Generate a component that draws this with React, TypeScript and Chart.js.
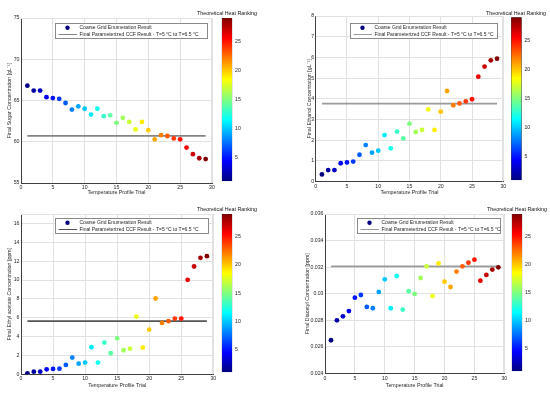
import React, { useEffect, useRef } from 'react';
import { Chart, registerables } from 'chart.js';

Chart.register(...registerables);

// ---------------- data ----------------
const trials = [1, 2, 3, 4, 5, 6, 7, 8, 9, 10, 11, 12, 13, 14, 15, 16, 17, 18, 19, 20, 21, 22, 23, 24, 25, 26, 27, 28, 29];
const heatRanking = [1, 2, 3, 4, 5, 6, 7, 8, 9, 10, 11, 12, 13, 14, 15, 16, 17, 18, 19, 20, 21, 22, 23, 24, 25, 26, 27, 28, 29];

const sugar = [66.8, 66.2, 66.2, 65.4, 65.3, 65.2, 64.7, 63.9, 64.3, 64.0, 63.3, 64.0, 63.1, 63.2, 62.3, 62.9, 62.4, 61.5, 62.4, 61.4, 60.3, 60.8, 60.7, 60.4, 60.3, 59.3, 58.5, 58.0, 57.9];
const ethanol = [0.35, 0.56, 0.56, 0.89, 0.93, 0.97, 1.3, 1.77, 1.4, 1.5, 2.25, 1.61, 2.42, 2.09, 2.8, 2.4, 2.5, 3.49, 2.5, 3.38, 4.38, 3.69, 3.78, 3.88, 3.98, 5.07, 5.56, 5.86, 5.94];
const ethylAcetate = [0.1, 0.28, 0.28, 0.53, 0.57, 0.6, 0.99, 1.77, 1.13, 1.24, 2.87, 1.24, 3.36, 2.23, 3.82, 2.55, 2.73, 6.12, 2.83, 4.74, 8.04, 5.45, 5.63, 5.91, 5.91, 10.02, 11.43, 12.35, 12.53];
const diacetyl = [0.02649, 0.02799, 0.02829, 0.02869, 0.0297, 0.0299, 0.029, 0.0289, 0.03013, 0.03108, 0.0289, 0.03133, 0.0288, 0.03018, 0.02998, 0.03118, 0.03206, 0.02982, 0.03228, 0.0309, 0.0305, 0.03166, 0.03206, 0.03233, 0.03256, 0.03098, 0.03141, 0.03181, 0.03198];

const sugarCCF = 60.72;
const ethanolCCF = 3.77;
const ethylAcetateCCF = 5.63;
const diacetylCCF = 0.03205;
const ccfFrom = 1;
const ccfTo = 29;

const xTicks = [0, 5, 10, 15, 20, 25, 30];
const sugarTicks = [55, 60, 65, 70, 75];
const ethanolTicks = [0, 1, 2, 3, 4, 5, 6, 7, 8];
const ethylAcetateTicks = [0, 2, 4, 6, 8, 10, 12, 14, 16];
const diacetylTicks = [0.024, 0.026, 0.028, 0.03, 0.032, 0.034, 0.036];
const heatTicks = [5, 10, 15, 20, 25];
const heatMin = 1;
const heatMax = 29;

const legendLabels = ['Coarse Grid Enumeration Result', 'Final Parameterized CCF Result - T=5 \u00b0C to T=6.5 \u00b0C'];
const xTitle = 'Temperature Profile Trial';
const cbTitle = 'Theoretical Heat Ranking';

// ---------------- style ----------------
const FONT = '"Liberation Sans", Arial, Helvetica, sans-serif';
const TEXT = '#262626';
const GRID = '#e1e1e1';
const AXIS = '#404040';

function jet(t: number) {
  const c = (v: number) => Math.round(255 * Math.max(0, Math.min(1, v)));
  const r = Math.min(4 * t - 1.5, -4 * t + 4.5);
  const g = Math.min(4 * t - 0.5, -4 * t + 3.5);
  const b = Math.min(4 * t + 0.5, -4 * t + 2.5);
  return `rgb(${c(r)},${c(g)},${c(b)})`;
}

const framePlugin = {
  id: 'frame',
  beforeDatasetsDraw(chart: any) {
    const a = chart.chartArea;
    const ctx = chart.ctx;
    ctx.save();
    ctx.strokeStyle = GRID;
    ctx.lineWidth = 1;
    ctx.beginPath();
    ctx.moveTo(a.left, Math.round(a.top) + 0.5);
    ctx.lineTo(a.right, Math.round(a.top) + 0.5);
    ctx.moveTo(Math.round(a.right) - 0.5, a.top);
    ctx.lineTo(Math.round(a.right) - 0.5, a.bottom);
    ctx.stroke();
    ctx.restore();
  },
};

const boxLegend = {
  id: 'boxLegend',
  afterDraw(chart: any, _args: any, o: any) {
    const a = chart.chartArea;
    const ctx = chart.ctx;
    const x = Math.round(a.left + o.dx) + 0.5;
    const y = Math.round(a.top + o.dy) + 0.5;
    const w = Math.round(o.w);
    const h = Math.round(o.h);
    const ds = chart.data.datasets;
    ctx.save();
    ctx.fillStyle = '#ffffff';
    ctx.fillRect(x, y, w, h);
    ctx.strokeStyle = '#8a8a8a';
    ctx.lineWidth = 1;
    ctx.strokeRect(x, y, w, h);
    ctx.fillStyle = jet(0);
    ctx.beginPath();
    ctx.arc(x + 12, y + 4.2, 2.2, 0, Math.PI * 2);
    ctx.fill();
    ctx.strokeStyle = ds[1].borderColor;
    ctx.lineWidth = 1;
    ctx.beginPath();
    ctx.moveTo(x + 3, y + 11);
    ctx.lineTo(x + 21.5, y + 11);
    ctx.stroke();
    ctx.font = `5px ${FONT}`;
    ctx.fillStyle = TEXT;
    ctx.textAlign = 'left';
    ctx.textBaseline = 'middle';
    ctx.fillText(ds[0].label, x + 24, y + 4.4);
    ctx.fillText(ds[1].label, x + 24, y + 11.2);
    ctx.restore();
  },
};

type Box = { left: number; top: number; width: number; height: number };

const panels = [
  {
    values: sugar, ccf: sugarCCF, yTicks: sugarTicks, yMin: 55, yMax: 75,
    yTitle: 'Final Sugar Concentration [gL\u207B\u00B9]', lineColor: '#858585',
    box: { left: 6, top: 0, width: 214, height: 197 },
    area: { left: 21, top: 18, right: 212, bottom: 183 },
    yTitlePad: 0.8, xTickPad: 1.2, xTitlePad: 1.1,
    legend: { dx: 34, dy: 4.7, w: 152, h: 15 },
    cb: { cx: 227, top: 18, bottom: 183, titleY: 13.3 },
  },
  {
    values: ethanol, ccf: ethanolCCF, yTicks: ethanolTicks, yMin: 0, yMax: 8,
    yTitle: 'Final Ethanol Concentration [gL\u207B\u00B9]', lineColor: '#9a9a9a',
    box: { left: 305, top: 0, width: 206, height: 197 },
    area: { left: 315.7, top: 16, right: 503.3, bottom: 181.7 },
    yTitlePad: 1.5, xTickPad: 1.9, xTitlePad: 1.1,
    legend: { dx: 34.3, dy: 6.7, w: 147, h: 15 },
    cb: { cx: 516.4, top: 17.3, bottom: 181.7, titleY: 13.3 },
  },
  {
    values: ethylAcetate, ccf: ethylAcetateCCF, yTicks: ethylAcetateTicks, yMin: 0, yMax: 17,
    yTitle: 'Final Ethyl acetate Concentration [ppm]', lineColor: '#555555',
    box: { left: 6, top: 200, width: 214, height: 190 },
    area: { left: 21, top: 214, right: 213.3, bottom: 374.3 },
    yTitlePad: 0.8, xTickPad: 0.9, xTitlePad: 1.1,
    legend: { dx: 34, dy: 4.3, w: 153, h: 15 },
    cb: { cx: 227, top: 214, bottom: 374.3, titleY: 209 },
  },
  {
    values: diacetyl, ccf: diacetylCCF, yTicks: diacetylTicks, yMin: 0.024, yMax: 0.036,
    yTitle: 'Final Diacetyl Concentration [ppm]', lineColor: '#9a9a9a',
    box: { left: 304, top: 200, width: 208, height: 190 },
    area: { left: 325, top: 214, right: 504.3, bottom: 373.3 },
    yTitlePad: 0.8, xTickPad: 1.9, xTitlePad: 1.1,
    legend: { dx: 32.3, dy: 4.3, w: 143, h: 15 },
    cb: { cx: 517, top: 214, bottom: 373.3, titleY: 209 },
  },
];

function fmt(v: number) {
  return String(Number(v.toFixed(4)));
}

function makePanel(canvas: HTMLCanvasElement, p: any) {
  const padTop = p.area.top - p.box.top;
  const padRight = p.box.left + p.box.width - p.area.right;
  const yW = p.area.left - p.box.left;
  const xH = p.box.top + p.box.height - p.area.bottom;
  const colors = heatRanking.map((r) => jet((r - heatMin) / (heatMax - heatMin)));
  const tickFont = { family: FONT, size: 5.2 };
  const titleFont = { family: FONT, size: 5.3 };
  return new Chart(canvas, {
    type: 'scatter',
    data: {
      datasets: [
        {
          label: legendLabels[0],
          data: trials.map((t, i) => ({ x: t, y: p.values[i] })),
          backgroundColor: colors,
          borderColor: colors,
          pointRadius: 2.4,
          pointBorderWidth: 0,
          order: 0,
        },
        {
          type: 'line',
          label: legendLabels[1],
          data: [{ x: ccfFrom, y: p.ccf }, { x: ccfTo, y: p.ccf }],
          borderColor: p.lineColor,
          borderWidth: 1.8,
          pointRadius: 0,
          fill: false,
          order: 1,
        },
      ],
    } as any,
    options: {
      animation: false,
      responsive: false,
      maintainAspectRatio: false,
      layout: { padding: { top: padTop, right: padRight, left: 0, bottom: 0 } },
      plugins: {
        legend: { display: false },
        tooltip: { enabled: false },
        boxLegend: p.legend,
      },
      scales: {
        x: {
          type: 'linear',
          min: 0,
          max: 30,
          afterBuildTicks: (s: any) => { s.ticks = xTicks.map((v) => ({ value: v })); },
          afterFit: (s: any) => { s.height = xH; },
          grid: { color: GRID, lineWidth: 1, drawTicks: false },
          border: { color: AXIS, width: 1 },
          ticks: { font: tickFont, color: TEXT, padding: p.xTickPad, maxRotation: 0, autoSkip: false, callback: (v: any) => fmt(v) },
          title: { display: true, text: xTitle, font: titleFont, color: TEXT, padding: { top: 0, bottom: p.xTitlePad } },
        },
        y: {
          type: 'linear',
          min: p.yMin,
          max: p.yMax,
          afterBuildTicks: (s: any) => { s.ticks = p.yTicks.map((v: number) => ({ value: v })); },
          afterFit: (s: any) => { s.width = yW; },
          grid: { color: GRID, lineWidth: 1, drawTicks: false },
          border: { color: AXIS, width: 1 },
          ticks: { font: tickFont, color: TEXT, padding: 1.5, autoSkip: false, callback: (v: any) => fmt(v) },
          title: { display: true, text: p.yTitle, font: titleFont, color: TEXT, padding: { top: p.yTitlePad, bottom: 0 } },
        },
      },
    } as any,
    plugins: [framePlugin, boxLegend] as any,
  });
}

const CB_W = 10.6;
const CB_CANVAS_W = 70;
const CB_FONT = 5.3;

function cbBox(cb: any): Box {
  const lh = CB_FONT * 1.2;
  const top = Math.round(cb.titleY - lh / 2);
  const left = Math.round(cb.cx - CB_CANVAS_W / 2);
  return { left, top, width: CB_CANVAS_W, height: Math.round(cb.bottom + 4 - top) };
}

function makeColorbar(canvas: HTMLCanvasElement, cb: any) {
  const box = cbBox(cb);
  const lh = CB_FONT * 1.2;
  const leftW = cb.cx - CB_W / 2 - box.left;
  const axisW = box.width - (cb.cx + CB_W / 2 - box.left);
  const titleBottom = cb.top - box.top - lh;
  const bottomPad = box.top + box.height - cb.bottom;
  return new Chart(canvas, {
    type: 'bar',
    data: {
      labels: [''],
      datasets: [
        {
          data: [[heatMin, heatMax]],
          yAxisID: 'y',
          backgroundColor: (c: any) => {
            const a = c.chart.chartArea;
            if (!a) return '#888';
            const g = c.chart.ctx.createLinearGradient(0, a.bottom, 0, a.top);
            for (let i = 0; i <= 64; i++) g.addColorStop(i / 64, jet(i / 64));
            return g;
          },
          borderColor: '#333333',
          borderWidth: 0.6,
          borderSkipped: false,
          barPercentage: 1,
          categoryPercentage: 1,
        },
      ],
    } as any,
    options: {
      animation: false,
      responsive: false,
      maintainAspectRatio: false,
      layout: { padding: { left: 0, right: 0, top: 0, bottom: bottomPad } },
      plugins: {
        legend: { display: false },
        tooltip: { enabled: false },
        title: {
          display: true,
          text: cbTitle,
          color: '#111111',
          font: { family: FONT, size: CB_FONT, weight: 'normal', lineHeight: 1.2 },
          padding: { top: 0, bottom: titleBottom },
        },
      },
      scales: {
        x: { display: false },
        spacer: {
          type: 'linear',
          position: 'left',
          display: true,
          min: heatMin,
          max: heatMax,
          ticks: { display: false },
          grid: { display: false, drawTicks: false },
          border: { display: false },
          afterFit: (s: any) => { s.width = leftW; },
        },
        y: {
          position: 'right',
          min: heatMin,
          max: heatMax,
          afterBuildTicks: (s: any) => { s.ticks = heatTicks.map((v) => ({ value: v })); },
          afterFit: (s: any) => { s.width = axisW; },
          grid: { display: false, drawTicks: false },
          border: { display: false },
          ticks: { font: { family: FONT, size: 5.2 }, color: TEXT, padding: 2.7, autoSkip: false },
        },
      },
    } as any,
  });
}

function ChartCanvas({ box, make }: { box: Box; make: (c: HTMLCanvasElement) => Chart }) {
  const ref = useRef<HTMLCanvasElement>(null);
  useEffect(() => {
    const chart = make(ref.current as HTMLCanvasElement);
    return () => chart.destroy();
  }, []);
  return (
    <canvas
      ref={ref}
      width={box.width}
      height={box.height}
      style={{ position: 'absolute', left: box.left, top: box.top, width: box.width, height: box.height, display: 'block' }}
    />
  );
}

export default function App() {
  return (
    <div style={{ position: 'absolute', left: 0, top: 0, width: 550, height: 395, background: '#ffffff', overflow: 'hidden' }}>
      {panels.map((p, i) => (
        <ChartCanvas key={'p' + i} box={p.box} make={(c) => makePanel(c, p)} />
      ))}
      {panels.map((p, i) => (
        <ChartCanvas key={'c' + i} box={cbBox(p.cb)} make={(c) => makeColorbar(c, p.cb)} />
      ))}
    </div>
  );
}
